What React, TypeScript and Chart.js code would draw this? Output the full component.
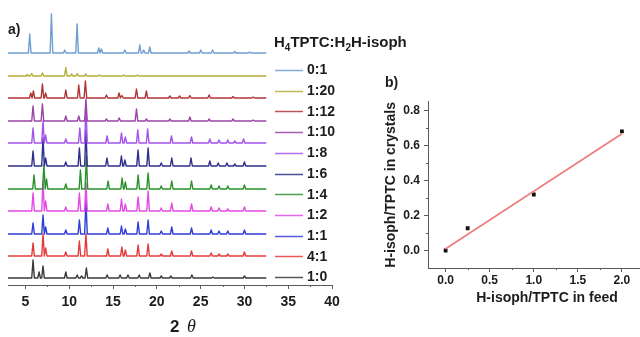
import { useEffect, useRef } from "react";
import { Chart, registerables } from "chart.js";
Chart.register(...registerables);

// ---------- Panel a) data ----------
const ratioLabels = ["0:1", "1:20", "1:12", "1:10", "1:8", "1:6", "1:4", "1:2", "1:1", "4:1", "1:0"];
const traceColors = ["#6f9fd3", "#b5ae3a", "#b03636", "#9a44a6", "#a452ee", "#2e2e8c", "#2a922a", "#e44ae4", "#2f3fd6", "#e63a3a", "#3a3a3a"];
const traceOffsets = [232, 209, 187, 164, 142, 119, 96, 74, 51, 29, 7];
const scanStart = 3.0;
const scanEnd = 32.5;

const peaks0_1 = [[5.48, 19], [7.96, 39], [9.48, 3], [10.89, 29], [13.37, 5], [13.67, 4], [16.34, 3], [18.05, 8], [18.5, 3], [19.19, 6], [23.69, 2], [25.02, 3], [26.36, 3], [28.9, 1.5], [30.6, 1]];
const peaks1_20 = [[5.2, 1.5], [5.7, 2.5], [6.93, 3], [9.6, 8.5], [10.25, 2], [10.9, 2.5], [11.88, 2], [13.4, 1], [16.2, 1], [17.8, 1]];
const peaks1_12 = [[5.6, 5], [5.9, 7], [6.93, 14], [7.3, 5], [9.6, 8], [11.08, 13], [11.84, 17], [14.24, 3], [15.68, 5], [16.0, 2.5], [17.67, 9], [18.8, 7], [21.48, 2], [22.6, 2], [23.77, 2.5], [25.97, 3], [28.7, 1.5], [31.0, 1]];
const peaks1_10 = [[5.86, 15], [6.93, 17], [9.6, 5], [11.08, 5], [11.9, 22], [14.24, 2], [15.7, 3], [17.67, 12], [18.8, 2], [21.5, 2], [23.77, 4], [25.97, 2], [28.7, 2], [31.0, 1]];
const peaks1_8 = [[5.86, 15], [7.0, 22], [7.3, 8], [9.6, 4], [11.2, 15], [11.9, 36], [14.32, 7], [15.96, 10], [16.4, 6], [17.82, 13], [18.95, 14], [21.67, 7], [23.96, 6], [26.05, 4], [27.1, 3], [28.1, 3], [28.9, 2], [29.9, 4]];
const peaks1_6 = [[5.86, 15], [7.0, 28], [7.3, 8], [9.6, 4], [11.15, 18], [11.9, 36], [14.3, 8], [15.95, 10], [16.35, 6], [17.85, 16], [19.0, 18], [20.5, 3], [21.7, 8], [23.9, 8], [26.05, 5], [27.0, 3], [28.0, 3], [28.9, 2], [30.0, 4]];
const peaks1_4 = [[5.97, 14], [7.1, 24], [7.4, 10], [9.6, 5], [11.27, 19], [11.95, 33], [14.43, 8], [16.03, 11], [16.4, 7], [17.86, 14], [19.0, 16], [20.5, 3], [21.7, 8], [23.96, 8], [26.2, 4], [27.1, 3], [28.1, 3], [30.0, 4]];
const peaks1_2 = [[5.86, 18], [7.0, 30], [7.3, 10], [9.6, 4], [11.15, 18], [11.9, 28], [14.4, 7], [15.96, 12], [16.4, 7], [17.86, 14], [19.0, 20], [20.5, 3], [21.7, 8], [23.96, 7], [26.2, 4], [27.1, 3], [28.1, 2], [30.0, 4]];
const peaks1_1 = [[5.86, 11], [7.0, 19], [7.3, 7], [9.6, 4], [11.15, 14], [11.9, 34], [14.4, 6], [15.96, 8], [16.4, 5], [17.86, 12], [19.0, 14], [20.5, 3], [21.7, 7], [23.96, 6], [26.2, 4], [27.1, 3], [28.1, 3], [30.0, 4]];
const peaks4_1 = [[5.86, 13], [7.0, 22], [7.3, 8], [9.6, 4], [11.15, 15], [11.9, 22], [14.4, 7], [16.0, 9], [16.4, 6], [17.86, 11], [19.0, 12], [20.5, 2], [21.7, 5], [23.96, 5], [26.2, 3], [27.1, 2], [28.1, 2], [30.0, 4]];
const peaks1_0 = [[5.86, 18], [6.55, 6], [7.0, 12], [9.6, 6], [10.9, 3], [11.4, 2], [11.95, 10], [14.32, 3], [15.8, 3], [16.7, 3], [17.98, 3], [19.2, 5], [20.5, 2], [21.6, 2], [24.0, 3], [26.4, 1], [30.0, 2]];
const peakSets = [peaks0_1, peaks1_20, peaks1_12, peaks1_10, peaks1_8, peaks1_6, peaks1_4, peaks1_2, peaks1_1, peaks4_1, peaks1_0];

const xTicksA = [5, 10, 15, 20, 25, 30, 35, 40];
const xMinorA = [7.5, 12.5, 17.5, 22.5, 27.5, 32.5, 37.5];

// ---------- Panel b) data ----------
const feedRatio = [0, 0.25, 1, 2];
const crystalRatio = [0.0, 0.127, 0.32, 0.68];
const fitX = [0, 2];
const fitY = [0.01, 0.667];
const xTicksB = [0, 0.5, 1, 1.5, 2];
const yTicksB = [0, 0.2, 0.4, 0.6, 0.8];
const xMinorB = [0.25, 0.75, 1.25, 1.75, 2.25];
const yMinorB = [0.1, 0.3, 0.5, 0.7];

const FONT = "'Liberation Sans', Arial, sans-serif";
const INK = "#1c1c1c";
const AXIS = "#5a5a5a";
const PEAK_HALF = 0.15;

function buildTrace(peaks: number[][], offset: number) {
  const pts: { x: number; y: number }[] = [{ x: scanStart, y: offset }];
  for (const [p, h] of peaks) {
    pts.push({ x: p - PEAK_HALF, y: offset }, { x: p, y: offset + h }, { x: p + PEAK_HALF, y: offset });
  }
  pts.push({ x: scanEnd, y: offset });
  return pts;
}

function drawMinor(chart: any, axisId: string, values: number[], len: number) {
  const ctx = chart.ctx;
  const s = chart.scales[axisId];
  const area = chart.chartArea;
  ctx.save();
  ctx.strokeStyle = AXIS;
  ctx.lineWidth = 1;
  ctx.beginPath();
  for (const v of values) {
    if (s.isHorizontal()) {
      const px = Math.round(s.getPixelForValue(v)) + 0.5;
      ctx.moveTo(px, area.bottom);
      ctx.lineTo(px, area.bottom + len);
    } else {
      const py = Math.round(s.getPixelForValue(v)) + 0.5;
      ctx.moveTo(area.left, py);
      ctx.lineTo(area.left - len, py);
    }
  }
  ctx.stroke();
  ctx.restore();
}

const panelAPlugin = {
  id: "panelA",
  afterDraw(chart: any) {
    const ctx = chart.ctx;
    drawMinor(chart, "x", xMinorA, 2);
    ctx.save();
    ctx.fillStyle = INK;
    ctx.textBaseline = "middle";
    ctx.textAlign = "left";
    ctx.font = `bold 14px ${FONT}`;
    ctx.fillText("a)", 8, 30);

    // legend title with subscripts
    let x = 274;
    const ty = 43;
    const big = `bold 15px ${FONT}`;
    const small = `bold 10px ${FONT}`;
    const parts: [string, boolean][] = [["H", false], ["4", true], ["TPTC:H", false], ["2", true], ["H-isoph", false]];
    for (const [t, sub] of parts) {
      ctx.font = sub ? small : big;
      ctx.fillText(t, x, sub ? ty + 5 : ty);
      x += ctx.measureText(t).width;
    }

    // legend entries
    ctx.font = `bold 14px ${FONT}`;
    chart.data.datasets.forEach((ds: any, i: number) => {
      const y = 70 + i * 20.7;
      ctx.strokeStyle = ds.borderColor;
      ctx.globalAlpha = 0.85;
      ctx.lineWidth = 1.5;
      ctx.beginPath();
      ctx.moveTo(275, Math.round(y) + 0.5);
      ctx.lineTo(303, Math.round(y) + 0.5);
      ctx.stroke();
      ctx.globalAlpha = 1;
      ctx.fillStyle = INK;
      ctx.fillText(ds.label, 307, y + 0.5);
    });

    // axis title "2 θ"
    ctx.font = `bold 17px ${FONT}`;
    ctx.fillText("2", 170, 327);
    ctx.font = `italic 18px 'Liberation Serif', serif`;
    ctx.fillText("θ", 187, 327);
    ctx.restore();
  },
};

const panelBPlugin = {
  id: "panelB",
  afterDraw(chart: any) {
    drawMinor(chart, "x", xMinorB, 2);
    drawMinor(chart, "y", yMinorB, 2);
    const ctx = chart.ctx;
    ctx.save();
    ctx.fillStyle = INK;
    ctx.textBaseline = "middle";
    ctx.textAlign = "left";
    ctx.font = `bold 14px ${FONT}`;
    ctx.fillText("b)", 15, 23);
    ctx.restore();
  },
};

export default function App() {
  const refA = useRef<HTMLCanvasElement>(null);
  const refB = useRef<HTMLCanvasElement>(null);

  useEffect(() => {
    const chartA = new Chart(refA.current!, {
      type: "line",
      data: {
        datasets: ratioLabels.map((lab, i) => ({
          label: lab,
          data: buildTrace(peakSets[i], traceOffsets[i]),
          borderColor: traceColors[i],
          borderWidth: 1.4,
          borderJoinStyle: "round",
          pointRadius: 0,
          fill: false,
          tension: 0,
        })),
      },
      options: {
        animation: false,
        responsive: false,
        layout: { padding: { left: 8, right: 308, top: 5, bottom: 0 } },
        plugins: { legend: { display: false }, tooltip: { enabled: false } },
        scales: {
          x: {
            type: "linear",
            min: 3,
            max: 40,
            afterBuildTicks: (s: any) => {
              s.ticks = xTicksA.map((v) => ({ value: v }));
            },
            afterFit: (s: any) => {
              s.height = 52;
            },
            grid: { drawOnChartArea: false, drawTicks: true, tickLength: 4, color: AXIS },
            border: { display: true, color: AXIS, width: 1 },
            ticks: {
              font: { family: FONT, weight: "bold", size: 14 },
              color: INK,
              padding: 5,
              maxRotation: 0,
              autoSkip: false,
            },
          },
          y: { display: false, min: 0, max: 280 },
        },
      } as any,
      plugins: [panelAPlugin],
    });

    const chartB = new Chart(refB.current!, {
      type: "scatter",
      data: {
        datasets: [
          {
            label: "fit",
            data: fitX.map((x, i) => ({ x, y: fitY[i] })),
            showLine: true,
            borderColor: "#ee7b7b",
            borderWidth: 1.6,
            pointRadius: 0,
          },
          {
            label: "data",
            data: feedRatio.map((x, i) => ({ x, y: crystalRatio[i] })),
            pointStyle: "rect",
            pointRadius: 2.7,
            backgroundColor: "#111",
            borderColor: "#111",
            borderWidth: 0,
          },
        ],
      },
      options: {
        animation: false,
        responsive: false,
        layout: { padding: { left: 9, top: 41.7, right: 14, bottom: 26.6 } },
        plugins: { legend: { display: false }, tooltip: { enabled: false } },
        scales: {
          x: {
            type: "linear",
            min: -0.2,
            max: 2.5,
            afterBuildTicks: (s: any) => {
              s.ticks = xTicksB.map((v) => ({ value: v }));
            },
            afterFit: (s: any) => {
              s.height = 42.4;
            },
            title: {
              display: true,
              text: "H-isoph/TPTC in feed",
              color: INK,
              font: { family: FONT, weight: "bold", size: 14 },
            },
            grid: { drawOnChartArea: false, drawTicks: true, tickLength: 4, color: AXIS },
            border: { display: true, color: AXIS, width: 1 },
            ticks: {
              font: { family: FONT, weight: "bold", size: 12 },
              color: INK,
              padding: 1,
              maxRotation: 0,
              autoSkip: false,
              callback: (v: any) => Number(v).toFixed(1),
            },
          },
          y: {
            type: "linear",
            min: -0.1,
            max: 0.85,
            afterBuildTicks: (s: any) => {
              s.ticks = yTicksB.map((v) => ({ value: v }));
            },
            afterFit: (s: any) => {
              s.width = 49;
            },
            title: {
              display: true,
              text: "H-isoph/TPTC in crystals",
              color: INK,
              font: { family: FONT, weight: "bold", size: 14 },
            },
            grid: { drawOnChartArea: false, drawTicks: true, tickLength: 4, color: AXIS },
            border: { display: true, color: AXIS, width: 1 },
            ticks: {
              font: { family: FONT, weight: "bold", size: 12 },
              color: INK,
              padding: 4,
              autoSkip: false,
              callback: (v: any) => Number(v).toFixed(1),
            },
          },
        },
      } as any,
      plugins: [panelBPlugin],
    });

    return () => {
      chartA.destroy();
      chartB.destroy();
    };
  }, []);

  return (
    <div
      style={{
        position: "fixed",
        left: 0,
        top: 0,
        width: 640,
        height: 337,
        overflow: "hidden",
        background: "#ffffff",
      }}
    >
      <canvas
        ref={refA}
        width={640}
        height={337}
        style={{ position: "absolute", left: 0, top: 0, width: 640, height: 337 }}
      />
      <canvas
        ref={refB}
        width={310}
        height={277}
        style={{ position: "absolute", left: 370, top: 60, width: 310, height: 277 }}
      />
    </div>
  );
}
